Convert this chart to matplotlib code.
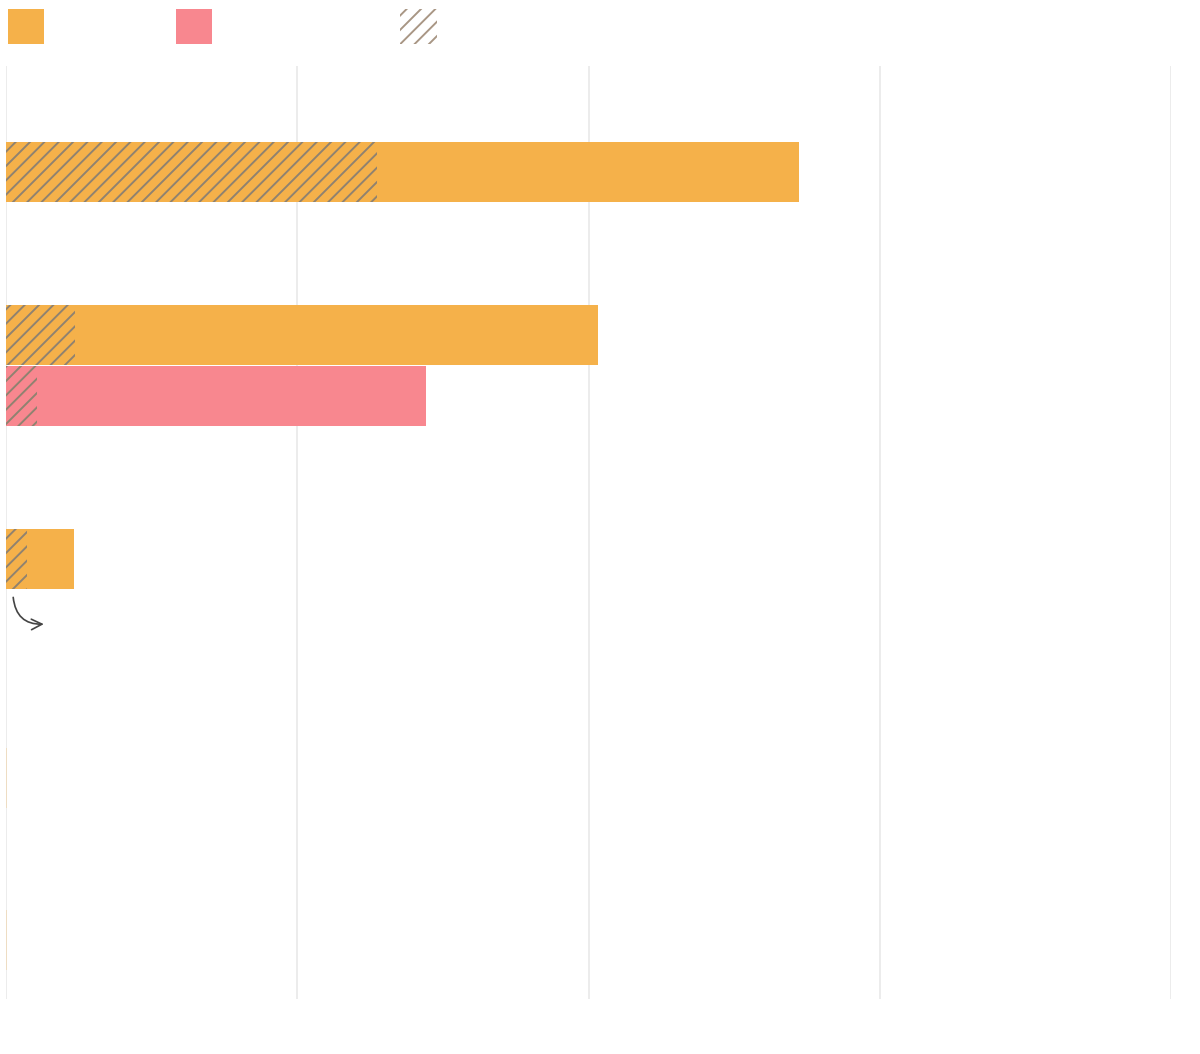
import matplotlib
matplotlib.use("Agg")
import matplotlib.pyplot as plt
from matplotlib.patches import Rectangle

# ---- data ----
series_a = [2.723, 2.033, 0.233, 0.004, 0.004]       # orange bars
series_a_hatched = [1.274, 0.237, 0.072, 0.0, 0.0]   # hatched part of orange bars
series_b = [1.442]                                     # pink bar
series_b_hatched = [0.106]                             # hatched part of pink bar
x_ticks = [0, 1, 2, 3, 4]

# ---- layout ----
a_pos = [105.5, 269, 492.5, 711.5, 874]
b_pos = [329.5]
bar_h = 60

ORANGE = "#F5B14A"
PINK = "#F8878F"
HATCH = "#8f8270"

DPI = 86
plt.rcParams["hatch.linewidth"] = 1.6
fig = plt.figure(figsize=(1200 / DPI, 1054 / DPI), dpi=DPI)
W, H = 1200, 1054
ax = fig.add_axes([6 / W, 1 - 999 / H, (1171 - 6) / W, (999 - 66) / H])

alphas = [1, 1, 1, 0.25, 0.25]
bars = ax.barh(a_pos, series_a, height=bar_h, color=ORANGE, linewidth=0, zorder=2)
for b, a in zip(bars, alphas):
    b.set_alpha(a)
ax.barh(b_pos, series_b, height=bar_h, color=PINK, linewidth=0, zorder=2)
ax.barh(a_pos, series_a_hatched, height=bar_h, facecolor="none", edgecolor=HATCH,
        hatch="//", linewidth=0, zorder=3)
ax.barh(b_pos, series_b_hatched, height=bar_h, facecolor="none", edgecolor=HATCH,
        hatch="//", linewidth=0, zorder=3)

ax.set_xlim(x_ticks[0], x_ticks[-1])
ax.set_ylim(933, 0)
ax.set_xticks(x_ticks)
ax.set_yticks([])
ax.tick_params(axis="x", length=0, labelbottom=False)
ax.grid(axis="x", color="#ececec", linewidth=1.6, zorder=0)
ax.set_axisbelow(True)
for s in ax.spines.values():
    s.set_visible(False)

# curved arrow annotation
ax.annotate("", xy=(0.138, 558), xytext=(0.024, 529),
            arrowprops=dict(arrowstyle="->", color="#444444", lw=1.4,
                            connectionstyle="arc3,rad=0.5", mutation_scale=22),
            zorder=4)

# legend swatches (no text)
fig.add_artist(Rectangle((8 / W, 1 - 44 / H), 36 / W, 35 / H, transform=fig.transFigure,
                         facecolor=ORANGE, edgecolor="none"))
fig.add_artist(Rectangle((176 / W, 1 - 44 / H), 36 / W, 35 / H, transform=fig.transFigure,
                         facecolor=PINK, edgecolor="none"))
fig.add_artist(Rectangle((400 / W, 1 - 44 / H), 37 / W, 35 / H, transform=fig.transFigure,
                         facecolor="none", edgecolor="#a89684", hatch="//", linewidth=0))

fig.savefig("out.png", dpi=DPI)
